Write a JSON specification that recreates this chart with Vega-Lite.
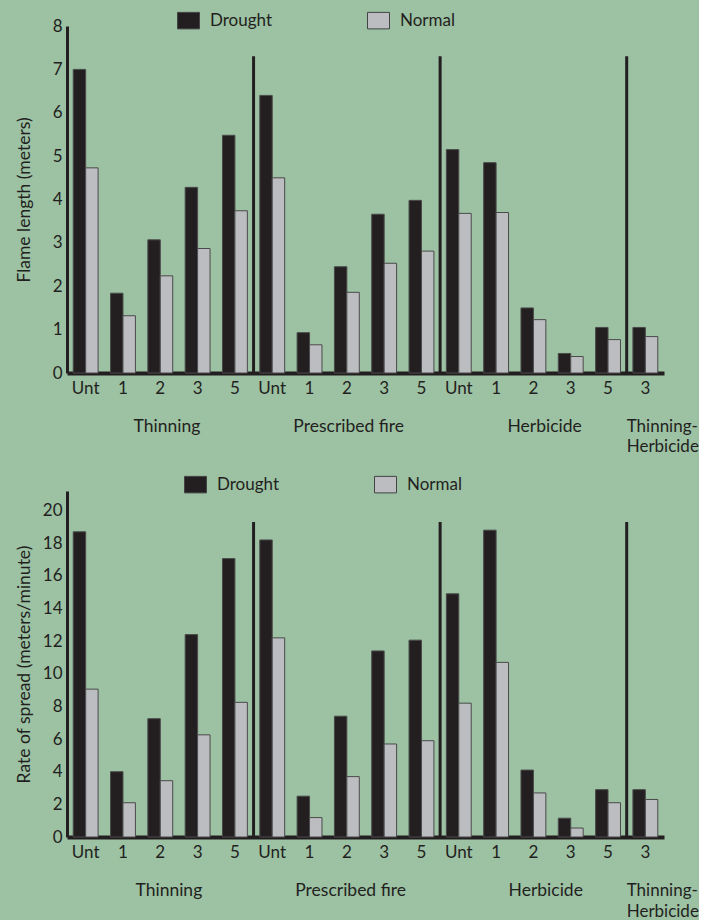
{
  "$schema": "https://vega.github.io/schema/vega-lite/v6.json",
  "background": "#9cc1a3",
  "padding": {"left": 15, "top": 9, "right": 0, "bottom": 0},
  "config": {
    "view": {"stroke": null},
    "font": "Lato",
    "axis": {"domainColor": "#231f20", "domainWidth": 3, "ticks": false, "grid": false, "labelColor": "#231f20", "labelFont": "Lato", "labelFontSize": 17, "labelOverlap": false, "titleColor": "#231f20", "titleFont": "Lato", "titleFontSize": 17.5, "titleFontWeight": "normal"},
    "legend": {"orient": "none", "direction": "horizontal", "title": null, "symbolType": "M-1,-0.75H1V0.75H-1Z", "symbolSize": 484, "symbolStrokeColor": "#444444", "symbolStrokeWidth": 1, "symbolOpacity": 1, "labelFont": "Lato", "labelFontSize": 17, "labelColor": "#231f20", "labelOffset": 10, "columnPadding": 92, "padding": 0, "rowPadding": 0},
    "text": {"font": "Lato", "fontSize": 17.5, "fill": "#231f20"}
  },
  "datasets": {
    "flame": [
      {"cat": "Thinning|Unt", "cond": "Drought", "value": 7.0}, {"cat": "Thinning|Unt", "cond": "Normal", "value": 4.73},
      {"cat": "Thinning|1", "cond": "Drought", "value": 1.84}, {"cat": "Thinning|1", "cond": "Normal", "value": 1.32},
      {"cat": "Thinning|2", "cond": "Drought", "value": 3.07}, {"cat": "Thinning|2", "cond": "Normal", "value": 2.24},
      {"cat": "Thinning|3", "cond": "Drought", "value": 4.28}, {"cat": "Thinning|3", "cond": "Normal", "value": 2.87},
      {"cat": "Thinning|5", "cond": "Drought", "value": 5.48}, {"cat": "Thinning|5", "cond": "Normal", "value": 3.74},
      {"cat": "Prescribed fire|Unt", "cond": "Drought", "value": 6.4}, {"cat": "Prescribed fire|Unt", "cond": "Normal", "value": 4.5},
      {"cat": "Prescribed fire|1", "cond": "Drought", "value": 0.93}, {"cat": "Prescribed fire|1", "cond": "Normal", "value": 0.65},
      {"cat": "Prescribed fire|2", "cond": "Drought", "value": 2.45}, {"cat": "Prescribed fire|2", "cond": "Normal", "value": 1.86},
      {"cat": "Prescribed fire|3", "cond": "Drought", "value": 3.66}, {"cat": "Prescribed fire|3", "cond": "Normal", "value": 2.53},
      {"cat": "Prescribed fire|5", "cond": "Drought", "value": 3.98}, {"cat": "Prescribed fire|5", "cond": "Normal", "value": 2.81},
      {"cat": "Herbicide|Unt", "cond": "Drought", "value": 5.15}, {"cat": "Herbicide|Unt", "cond": "Normal", "value": 3.68},
      {"cat": "Herbicide|1", "cond": "Drought", "value": 4.85}, {"cat": "Herbicide|1", "cond": "Normal", "value": 3.7},
      {"cat": "Herbicide|2", "cond": "Drought", "value": 1.5}, {"cat": "Herbicide|2", "cond": "Normal", "value": 1.23},
      {"cat": "Herbicide|3", "cond": "Drought", "value": 0.45}, {"cat": "Herbicide|3", "cond": "Normal", "value": 0.38},
      {"cat": "Herbicide|5", "cond": "Drought", "value": 1.05}, {"cat": "Herbicide|5", "cond": "Normal", "value": 0.77},
      {"cat": "Thinning-Herbicide|3", "cond": "Drought", "value": 1.05}, {"cat": "Thinning-Herbicide|3", "cond": "Normal", "value": 0.84}
    ],
    "spread": [
      {"cat": "Thinning|Unt", "cond": "Drought", "value": 18.7}, {"cat": "Thinning|Unt", "cond": "Normal", "value": 9.06},
      {"cat": "Thinning|1", "cond": "Drought", "value": 4.0}, {"cat": "Thinning|1", "cond": "Normal", "value": 2.1},
      {"cat": "Thinning|2", "cond": "Drought", "value": 7.25}, {"cat": "Thinning|2", "cond": "Normal", "value": 3.45},
      {"cat": "Thinning|3", "cond": "Drought", "value": 12.4}, {"cat": "Thinning|3", "cond": "Normal", "value": 6.26},
      {"cat": "Thinning|5", "cond": "Drought", "value": 17.06}, {"cat": "Thinning|5", "cond": "Normal", "value": 8.25},
      {"cat": "Prescribed fire|Unt", "cond": "Drought", "value": 18.2}, {"cat": "Prescribed fire|Unt", "cond": "Normal", "value": 12.2},
      {"cat": "Prescribed fire|1", "cond": "Drought", "value": 2.5}, {"cat": "Prescribed fire|1", "cond": "Normal", "value": 1.19},
      {"cat": "Prescribed fire|2", "cond": "Drought", "value": 7.4}, {"cat": "Prescribed fire|2", "cond": "Normal", "value": 3.7},
      {"cat": "Prescribed fire|3", "cond": "Drought", "value": 11.4}, {"cat": "Prescribed fire|3", "cond": "Normal", "value": 5.7},
      {"cat": "Prescribed fire|5", "cond": "Drought", "value": 12.06}, {"cat": "Prescribed fire|5", "cond": "Normal", "value": 5.9},
      {"cat": "Herbicide|Unt", "cond": "Drought", "value": 14.9}, {"cat": "Herbicide|Unt", "cond": "Normal", "value": 8.2},
      {"cat": "Herbicide|1", "cond": "Drought", "value": 18.8}, {"cat": "Herbicide|1", "cond": "Normal", "value": 10.7},
      {"cat": "Herbicide|2", "cond": "Drought", "value": 4.1}, {"cat": "Herbicide|2", "cond": "Normal", "value": 2.7},
      {"cat": "Herbicide|3", "cond": "Drought", "value": 1.15}, {"cat": "Herbicide|3", "cond": "Normal", "value": 0.55},
      {"cat": "Herbicide|5", "cond": "Drought", "value": 2.9}, {"cat": "Herbicide|5", "cond": "Normal", "value": 2.1},
      {"cat": "Thinning-Herbicide|3", "cond": "Drought", "value": 2.9}, {"cat": "Thinning-Herbicide|3", "cond": "Normal", "value": 2.3}
    ],
    "separators": [
      {"cat": "Prescribed fire|Unt"}, {"cat": "Herbicide|Unt"}, {"cat": "Thinning-Herbicide|3"}
    ],
    "groups": [
      {"cat": "Thinning|2", "label": "Thinning"},
      {"cat": "Prescribed fire|2", "label": "Prescribed fire"},
      {"cat": "Herbicide|2", "label": "Herbicide"}
    ],
    "lastgroup": [
      {"cat": "Thinning-Herbicide|3", "label": "Thinning-\nHerbicide"}
    ]
  },
  "resolve": {"scale": {"x": "independent", "y": "independent", "color": "independent"}, "legend": {"color": "independent"}},
  "spacing": 18,
  "vconcat": [
    {
      "width": 597,
      "height": 347,
      "layer": [
        {
          "data": {"name": "flame"},
          "mark": {"type": "bar", "stroke": "#4a4a4a", "strokeWidth": 1},
          "encoding": {
            "x": {"field": "cat", "type": "nominal", "sort": null,
              "scale": {"domain": ["Thinning|Unt","Thinning|1","Thinning|2","Thinning|3","Thinning|5","Prescribed fire|Unt","Prescribed fire|1","Prescribed fire|2","Prescribed fire|3","Prescribed fire|5","Herbicide|Unt","Herbicide|1","Herbicide|2","Herbicide|3","Herbicide|5","Thinning-Herbicide|3"], "paddingInner": 0, "paddingOuter": 0},
              "axis": {"title": null, "labelExpr": "split(datum.value, '|')[1]", "labelAngle": 0, "labelPadding": 7, "domainWidth": 4}},
            "xOffset": {"field": "cond", "type": "nominal", "scale": {"domain": ["Drought", "Normal"], "paddingInner": 0, "paddingOuter": 0.5}},
            "y": {"field": "value", "type": "quantitative", "scale": {"domain": [0, 8], "nice": false},
              "axis": {"title": "Flame length (meters)", "values": [0,1,2,3,4,5,6,7,8], "tickCount": 20, "format": "d", "labelOverlap": false, "labelPadding": 5, "titlePadding": 18.5}},
            "color": {"field": "cond", "type": "nominal", "scale": {"domain": ["Drought", "Normal"], "range": ["#231f20", "#bcbdc0"]},
              "legend": {"legendX": 110, "legendY": -17}}
          }
        },
        {
          "data": {"name": "separators"},
          "mark": {"type": "rule", "strokeWidth": 3, "color": "#231f20"},
          "encoding": {
            "x": {"field": "cat", "type": "nominal", "bandPosition": 0},
            "y": {"datum": 7.3},
            "y2": {"datum": 0}
          }
        },
        {
          "data": {"name": "groups"},
          "transform": [{"filter": "datum.label == 'Thinning'"}],
          "mark": {"type": "text", "align": "center", "baseline": "alphabetic"},
          "encoding": {
            "x": {"field": "cat", "type": "nominal", "bandPosition": 0.68},
            "y": {"datum": -1.36},
            "text": {"field": "label"}
          }
        },
        {
          "data": {"name": "groups"},
          "transform": [{"filter": "datum.label == 'Prescribed fire'"}],
          "mark": {"type": "text", "align": "center", "baseline": "alphabetic"},
          "encoding": {
            "x": {"field": "cat", "type": "nominal", "bandPosition": 0.55},
            "y": {"datum": -1.36},
            "text": {"field": "label"}
          }
        },
        {
          "data": {"name": "groups"},
          "transform": [{"filter": "datum.label == 'Herbicide'"}],
          "mark": {"type": "text", "align": "center", "baseline": "alphabetic"},
          "encoding": {
            "x": {"field": "cat", "type": "nominal", "bandPosition": 0.8},
            "y": {"datum": -1.36},
            "text": {"field": "label"}
          }
        },
        {
          "data": {"name": "lastgroup"},
          "mark": {"type": "text", "align": "left", "baseline": "alphabetic", "lineBreak": "\n", "lineHeight": 20, "fontSize": 17},
          "encoding": {
            "x": {"field": "cat", "type": "nominal", "bandPosition": 0},
            "y": {"datum": -1.36},
            "text": {"field": "label"}
          }
        }
      ]
    },
    {
      "width": 597,
      "height": 346,
      "layer": [
        {
          "data": {"name": "spread"},
          "mark": {"type": "bar", "stroke": "#4a4a4a", "strokeWidth": 1},
          "encoding": {
            "x": {"field": "cat", "type": "nominal", "sort": null,
              "scale": {"domain": ["Thinning|Unt","Thinning|1","Thinning|2","Thinning|3","Thinning|5","Prescribed fire|Unt","Prescribed fire|1","Prescribed fire|2","Prescribed fire|3","Prescribed fire|5","Herbicide|Unt","Herbicide|1","Herbicide|2","Herbicide|3","Herbicide|5","Thinning-Herbicide|3"], "paddingInner": 0, "paddingOuter": 0},
              "axis": {"title": null, "labelExpr": "split(datum.value, '|')[1]", "labelAngle": 0, "labelPadding": 7, "domainWidth": 4}},
            "xOffset": {"field": "cond", "type": "nominal", "scale": {"domain": ["Drought", "Normal"], "paddingInner": 0, "paddingOuter": 0.5}},
            "y": {"field": "value", "type": "quantitative", "scale": {"domain": [0, 21.2], "nice": false},
              "axis": {"title": "Rate of spread (meters/minute)", "values": [0,2,4,6,8,10,12,14,16,18,20], "tickCount": 20, "format": "d", "labelOverlap": false, "labelPadding": 5, "titlePadding": 9}},
            "color": {"field": "cond", "type": "nominal", "scale": {"domain": ["Drought", "Normal"], "range": ["#231f20", "#bcbdc0"]},
              "legend": {"legendX": 117, "legendY": -18}}
          }
        },
        {
          "data": {"name": "separators"},
          "mark": {"type": "rule", "strokeWidth": 3, "color": "#231f20"},
          "encoding": {
            "x": {"field": "cat", "type": "nominal", "bandPosition": 0},
            "y": {"datum": 19.3},
            "y2": {"datum": 0}
          }
        },
        {
          "data": {"name": "groups"},
          "transform": [{"filter": "datum.label == 'Thinning'"}],
          "mark": {"type": "text", "align": "center", "baseline": "alphabetic"},
          "encoding": {
            "x": {"field": "cat", "type": "nominal", "bandPosition": 0.73},
            "y": {"datum": -3.6},
            "text": {"field": "label"}
          }
        },
        {
          "data": {"name": "groups"},
          "transform": [{"filter": "datum.label == 'Prescribed fire'"}],
          "mark": {"type": "text", "align": "center", "baseline": "alphabetic"},
          "encoding": {
            "x": {"field": "cat", "type": "nominal", "bandPosition": 0.6},
            "y": {"datum": -3.6},
            "text": {"field": "label"}
          }
        },
        {
          "data": {"name": "groups"},
          "transform": [{"filter": "datum.label == 'Herbicide'"}],
          "mark": {"type": "text", "align": "center", "baseline": "alphabetic"},
          "encoding": {
            "x": {"field": "cat", "type": "nominal", "bandPosition": 0.83},
            "y": {"datum": -3.6},
            "text": {"field": "label"}
          }
        },
        {
          "data": {"name": "lastgroup"},
          "mark": {"type": "text", "align": "left", "baseline": "alphabetic", "lineBreak": "\n", "lineHeight": 21, "fontSize": 17},
          "encoding": {
            "x": {"field": "cat", "type": "nominal", "bandPosition": 0},
            "y": {"datum": -3.6},
            "text": {"field": "label"}
          }
        }
      ]
    }
  ]
}
